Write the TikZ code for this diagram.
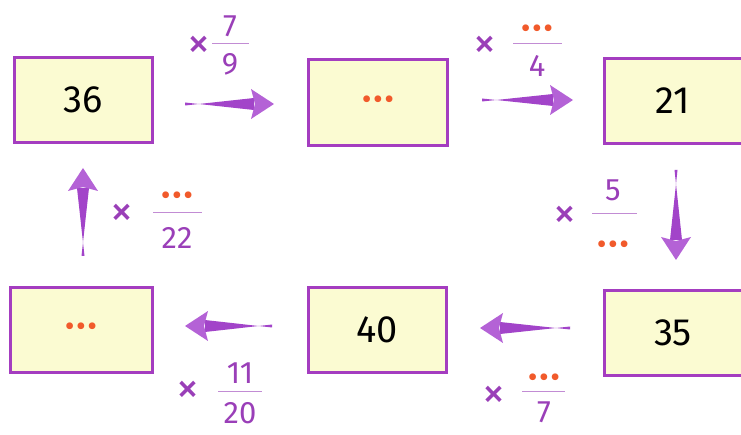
\documentclass[tikz,border=0pt]{standalone}
\usepackage{fontspec}
\setmainfont{Fira Sans}
\usetikzlibrary{calc}
\definecolor{boxborder}{HTML}{A43DC0}
\definecolor{boxfill}{HTML}{FBFBD2}
\definecolor{purp}{HTML}{9A3FB8}
\definecolor{arrowc}{HTML}{A244C9}
\definecolor{arrowh}{HTML}{B462D6}
\definecolor{dotc}{HTML}{F15A2B}
\newcommand\tridots{•\kern1.5pt•\kern1.5pt•}
\tikzset{
  numbox/.style={draw=boxborder, line width=3pt, fill=boxfill, minimum width=138pt,
    minimum height=85pt, inner sep=0pt, font=\fontsize{38}{38}\selectfont},
  dotstext/.style={text=dotc, inner sep=0pt, font=\fontsize{30}{30}\selectfont},
  fracnum/.style={text=purp, inner sep=0pt, font=\fontsize{31}{31}\selectfont},
  timessign/.style={text=purp, inner sep=0pt, font=\fontsize{46}{46}\selectfont},
  fracbar/.style={draw=purp!60, line width=0.9pt},
}
\newcommand\fatarrow[2]{%
  \fill[arrowc] ($(#1)!1.5pt!90:(#2)$) -- ($(#2)!20pt!(#1)!6pt!-90:(#2)$)
     -- ($(#2)!20pt!(#1)!6pt!90:(#2)$) -- ($(#1)!1.5pt!-90:(#2)$) -- cycle;
  \fill[arrowh] ($(#2)!23pt!(#1)!15pt!90:(#2)$) -- (#2)
     -- ($(#2)!23pt!(#1)!15pt!-90:(#2)$) -- ($(#2)!19pt!(#1)$) -- cycle;
}
\begin{document}
\begin{tikzpicture}[x=1pt,y=-1pt]
\useasboundingbox (0,0) rectangle (741,435);
% boxes
\node[numbox] (b36) at (83,100) {36};
\node[numbox, minimum width=139pt, minimum height=86pt] (bq1) at (378,103) {\textcolor{dotc}{\fontsize{30}{30}\selectfont\tridots}};
\node[numbox] (b21) at (673,101) {21};
\node[numbox, minimum width=142pt] (bq2) at (81,330) {\textcolor{dotc}{\fontsize{30}{30}\selectfont\tridots}};
\node[numbox] (b40) at (377,330) {40};
\node[numbox] (b35) at (673,333) {35};
% arrows
\coordinate (a1s) at (185,104); \coordinate (a1e) at (274,104);
\coordinate (a2s) at (482,100); \coordinate (a2e) at (573,100);
\coordinate (a3s) at (676,170); \coordinate (a3e) at (676,260);
\coordinate (a4s) at (570,328); \coordinate (a4e) at (480,328);
\coordinate (a5s) at (272,326); \coordinate (a5e) at (185,326);
\coordinate (a6s) at (83,256);  \coordinate (a6e) at (83,168);
\fatarrow{a1s}{a1e}
\fatarrow{a2s}{a2e}
\fatarrow{a3s}{a3e}
\fatarrow{a4s}{a4e}
\fatarrow{a5s}{a5e}
\fatarrow{a6s}{a6e}
% label 1: x 7/9
\node[timessign] (t1) at (199,47) {×};
\node[fracnum] (n1) at (230,26) {7};
\node[fracnum] (d1) at (230,64) {9};
\coordinate (l1a) at (212,43); \coordinate (l1b) at (249,43);
\draw[fracbar] (l1a) -- (l1b);
% label 2: x .../4
\node[timessign] (t2) at (485,47) {×};
\node[dotstext] (n2) at (537,32) {\tridots};
\node[fracnum] (d2) at (537,66) {4};
\coordinate (l2a) at (513,43); \coordinate (l2b) at (562,43);
\draw[fracbar] (l2a) -- (l2b);
% label 3: x 5/...
\node[timessign] (t3) at (565,217) {×};
\node[fracnum] (n3) at (613,190) {5};
\node[dotstext] (d3) at (613,248) {\tridots};
\coordinate (l3a) at (592,213); \coordinate (l3b) at (637,213);
\draw[fracbar] (l3a) -- (l3b);
% label 4: x .../22
\node[timessign] (t4) at (122,215) {×};
\node[dotstext] (n4) at (177,199) {\tridots};
\node[fracnum] (d4) at (177,238) {22};
\coordinate (l4a) at (153,212); \coordinate (l4b) at (202,212);
\draw[fracbar] (l4a) -- (l4b);
% label 5: x 11/20
\node[timessign] (t5) at (188,392) {×};
\node[fracnum] (n5) at (240,373) {11};
\node[fracnum] (d5) at (240,413) {20};
\coordinate (l5a) at (218,391); \coordinate (l5b) at (262,391);
\draw[fracbar] (l5a) -- (l5b);
% label 6: x .../7
\node[timessign] (t6) at (494,397) {×};
\node[dotstext] (n6) at (544,381) {\tridots};
\node[fracnum] (d6) at (544,412) {7};
\coordinate (l6a) at (522,391); \coordinate (l6b) at (565,391);
\draw[fracbar] (l6a) -- (l6b);
\end{tikzpicture}
\end{document}
